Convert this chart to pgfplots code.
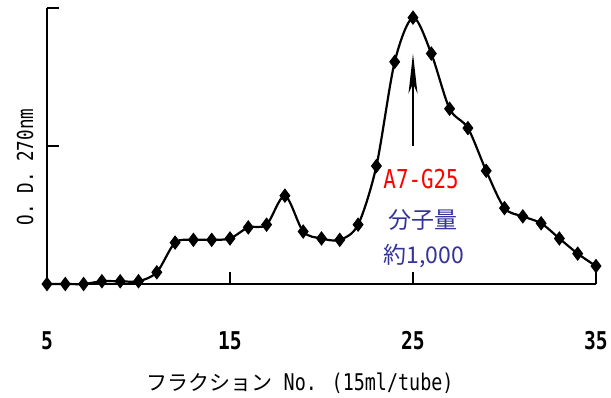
\documentclass[border=0pt]{standalone}
\usepackage{pgfplots}
\pgfplotsset{compat=1.18}
\usepackage{fontspec}
\usetikzlibrary{arrows.meta}
\setmainfont{Noto Sans CJK JP}
\newfontfamily\jp{Noto Sans CJK JP}
\newfontfamily\mono[FakeStretch=0.8]{DejaVu Sans Mono}
\definecolor{labelblue}{RGB}{51,51,153}

\pgfplotstableread{
frac od
5  0.00
6  0.00
7  0.00
8  0.02
9  0.02
10 0.02
11 0.085
12 0.30
13 0.32
14 0.32
15 0.33
16 0.41
17 0.43
18 0.64
19 0.38
20 0.33
21 0.32
22 0.43
23 0.855
24 1.61
25 1.93
26 1.67
27 1.27
28 1.13
29 0.82
30 0.55
31 0.49
32 0.44
33 0.33
34 0.22
35 0.13
}\fraction

\begin{document}
\begin{tikzpicture}[x=1pt,y=1pt]
\path[use as bounding box] (-47,-113) rectangle (564,284);
\begin{axis}[
  at={(0,0)}, anchor=origin,
  scale only axis, width=549pt, height=276pt,
  xmin=5, xmax=35, ymin=0, ymax=2,
  axis x line=bottom, axis y line=left,
  axis line style={-, line width=2pt},
  xtick={5,15,25,35}, ytick={0,1,2}, yticklabels={},
  tick align=inside, major tick length=12pt,
  tick style={line width=2pt, black},
  /pgf/number format/assume math mode=true,
  xticklabel style={anchor=center, yshift=-57pt,
    font=\fontsize{24.5}{27}\selectfont\mono\bfseries},
  xlabel={\jp\fontsize{21}{24}\selectfont フラクション\mono\fontsize{23}{24}\selectfont\ No. (15ml/tube)},
  xlabel style={at={(axis description cs:0.461,0)}, anchor=center, yshift=-99pt},
  ylabel={\mono O. D. 270nm},
  ylabel style={at={(axis description cs:-0.040,0.424)}, anchor=center,
    font=\fontsize{22}{24}\selectfont},
  clip=false,
]
\addplot[black, line width=2.2pt, smooth, tension=0.5,
  mark=diamond*, mark size=6.5pt, mark options={solid, fill=black, line width=1pt}]
  table[x=frac, y=od] {\fraction};
\draw[line width=2pt, -{Stealth[length=40pt, width=9pt, inset=10pt]}]
  (axis cs:25,1.0) -- (axis cs:25,1.67);
\node[text=red, font=\fontsize{26}{28}\selectfont\mono] at (axis cs:25.44,0.76) {A7-G25};
\node[text=labelblue, font=\fontsize{23}{26}\selectfont\jp] at (axis cs:25.55,0.464) {分子量};
\node[text=labelblue, font=\fontsize{23}{26}\selectfont\jp] at (axis cs:25.6,0.203) {約1,000};
\end{axis}
\end{tikzpicture}
\end{document}
